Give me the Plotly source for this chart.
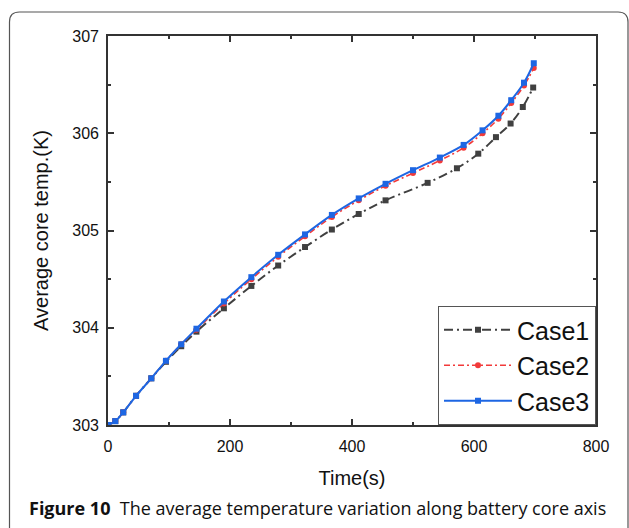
import plotly.graph_objects as go

# ---- data ----
t_case12 = [0, 12, 25, 46, 71, 95, 120, 145, 190, 235, 279, 323, 367, 411, 455, 500, 544, 583, 614, 640, 661, 682, 698]
case3 = [303.00, 303.04, 303.13, 303.30, 303.48, 303.66, 303.83, 303.99, 304.27, 304.52, 304.75, 304.96, 305.16, 305.33,
         305.48, 305.62, 305.75, 305.88, 306.03, 306.18, 306.34, 306.52, 306.72]
case2 = [303.00, 303.04, 303.13, 303.30, 303.48, 303.66, 303.83, 303.98, 304.25, 304.50, 304.73, 304.94, 305.14, 305.31,
         305.46, 305.59, 305.72, 305.85, 306.00, 306.15, 306.31, 306.49, 306.67]
t_case1 = [0, 12, 25, 46, 71, 95, 120, 145, 190, 235, 279, 323, 367, 411, 455, 524, 572, 607, 636, 660, 680, 697]
case1 = [303.00, 303.04, 303.13, 303.30, 303.48, 303.65, 303.81, 303.96, 304.20, 304.43, 304.64, 304.83, 305.01, 305.17,
         305.31, 305.49, 305.64, 305.79, 305.96, 306.10, 306.27, 306.47]

x_ticks = [0, 200, 400, 600, 800]
y_ticks = [303, 304, 305, 306, 307]

W, H = 629, 528
ML, MR, MT, MB = 108, 33, 36, 103
PW, PH = W - ML - MR, H - MT - MB
SANS = "Liberation Sans"


def px(x):
    return (x - ML) / PW


def py(y):
    return (H - MB - y) / PH


fig = go.Figure()
fig.add_trace(go.Scatter(
    x=t_case1, y=case1, name="Case1", mode="lines+markers", line_shape="spline",
    line=dict(color="#404040", width=2, dash="9px,4px,2px,4px"),
    marker=dict(symbol="square", size=6, color="#404040")))
fig.add_trace(go.Scatter(
    x=t_case12, y=case2, name="Case2", mode="lines+markers", line_shape="spline",
    line=dict(color="#f23a3a", width=1.6, dash="6px,3px,2px,3px"),
    marker=dict(symbol="circle", size=6, color="#f23a3a")))
fig.add_trace(go.Scatter(
    x=t_case12, y=case3, name="Case3", mode="lines+markers", line_shape="spline",
    line=dict(color="#1d66e3", width=2),
    marker=dict(symbol="square", size=6, color="#1d66e3")))

axis_common = dict(
    showline=True, linecolor="#333333", linewidth=1.6, mirror="allticks",
    ticks="inside", ticklen=6, tickwidth=1.5, tickcolor="#333333",
    showgrid=False, zeroline=False,
    tickfont=dict(family=SANS, size=16, color="#111111"),
)

fig.update_xaxes(
    range=[0, 800], tickvals=x_ticks, ticktext=[str(v) for v in x_ticks],
    ticklabelstandoff=6,
    minor=dict(ticks="inside", ticklen=3.5, tickwidth=1.5, tickcolor="#333333", dtick=100, showgrid=False),
    title=dict(text="Time(s)", font=dict(family=SANS, size=20, color="#111111"), standoff=17),
    **axis_common)
fig.update_yaxes(
    range=[303, 307], tickvals=y_ticks, ticktext=[str(v) for v in y_ticks],
    ticklabelstandoff=4,
    minor=dict(ticks="inside", ticklen=3.5, tickwidth=1.5, tickcolor="#333333", dtick=0.5, showgrid=False),
    title=dict(text="Average core temp.(K)", font=dict(family=SANS, size=20, color="#111111"), standoff=18),
    **axis_common)

# rounded frame around the figure (open at right/bottom like the reference crop)
x0, y0, x1, y1 = px(9.5), py(12), px(628), py(540)
rx, ry = 10 / PW, 10 / PH
path = (f"M {x0},{y1} L {x0},{y0 - ry} Q {x0},{y0} {x0 + rx},{y0} "
        f"L {x1 - rx},{y0} Q {x1},{y0} {x1},{y0 - ry} L {x1},{y1}")
fig.add_shape(type="path", xref="paper", yref="paper", path=path,
              line=dict(color="#555555", width=1.2), layer="below")

fig.add_annotation(
    xref="paper", yref="paper", x=px(27), y=py(508), xanchor="left", yanchor="middle",
    showarrow=False,
    text="<b>Figure 10</b>  The average temperature variation along battery core axis",
    font=dict(family="Open Sans", size=18, color="#111111"))

fig.update_layout(
    width=W, height=H,
    margin=dict(l=ML, r=MR, t=MT, b=MB),
    paper_bgcolor="white", plot_bgcolor="white",
    showlegend=True,
    legend=dict(
        x=1, y=0, xanchor="right", yanchor="bottom",
        bgcolor="white", bordercolor="#555555", borderwidth=1,
        font=dict(family=SANS, size=25, color="#111111"),
        itemwidth=68, tracegroupgap=0,
    ),
)

fig.write_html("out.html")
